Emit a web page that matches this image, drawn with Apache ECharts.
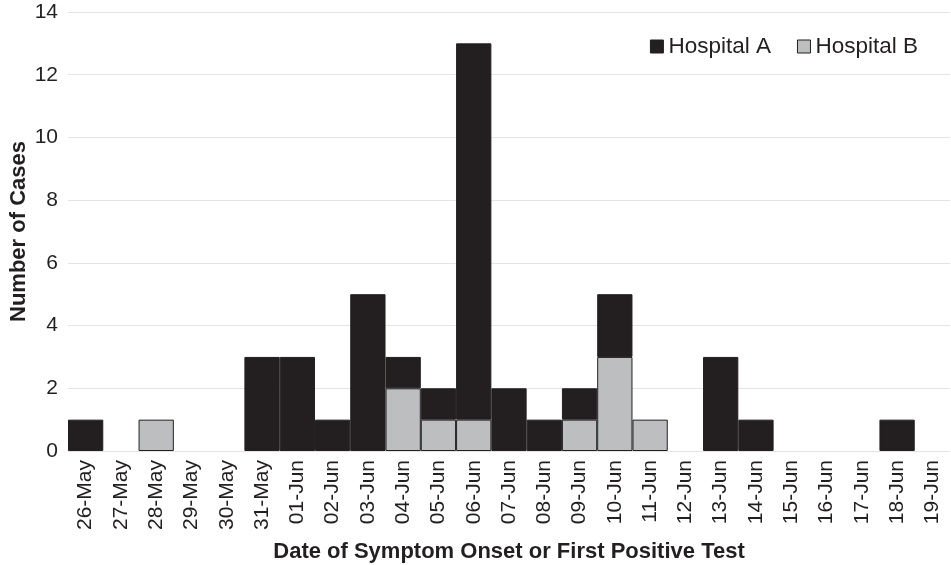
<!DOCTYPE html>
<html><head><meta charset="utf-8">
<script src="https://cdn.jsdelivr.net/npm/echarts@6/dist/echarts.min.js"></script>
<style>html,body{margin:0;padding:0;background:#fff}#c{width:951px;height:565px}</style>
</head><body><div id="c"></div>
<script>
const categories = ['26-May','27-May','28-May','29-May','30-May','31-May','01-Jun','02-Jun','03-Jun','04-Jun','05-Jun','06-Jun','07-Jun','08-Jun','09-Jun','10-Jun','11-Jun','12-Jun','13-Jun','14-Jun','15-Jun','16-Jun','17-Jun','18-Jun','19-Jun'];
const hospitalA = [1,0,0,0,0,3,3,1,5,1,1,12,2,1,1,2,0,0,3,1,0,0,0,1,0];
const hospitalB = [0,0,1,0,0,0,0,0,0,2,1,1,0,0,1,3,1,0,0,0,0,0,0,0,0];
const yTicks = [0,2,4,6,8,10,12,14];

const font = "'Liberation Sans', Arial, Helvetica, sans-serif";
const nz = arr => arr.map(v => v === 0 ? '-' : v);
const chart = echarts.init(document.getElementById('c'), null, {renderer:'canvas'});
chart.setOption({
  animation:false,
  textStyle:{fontFamily:font},
  grid:{left:68,right:1,top:12,bottom:114,containLabel:false,outerBoundsMode:'none'},
  legend:{
    data:['Hospital A','Hospital B'],
    right:28, top:30,
    itemWidth:13, itemHeight:13, itemGap:26,
    textStyle:{fontSize:22.5,color:'#231f20',fontFamily:font,padding:[0,0,0,0]},
    icon:'rect',
    itemStyle:{borderColor:'#231f20',borderWidth:1}
  },
  xAxis:{
    type:'category', data:categories,
    axisLine:{show:false}, axisTick:{show:false},
    axisLabel:{rotate:90, fontSize:21, color:'#231f20', margin:9, interval:0, fontFamily:font},
    name:'Date of Symptom Onset or First Positive Test',
    nameLocation:'middle', nameGap:90, nameMoveOverlap:false,
    nameTextStyle:{fontSize:22, fontWeight:'bold', color:'#231f20', fontFamily:font}
  },
  yAxis:{
    type:'value', min:yTicks[0], max:yTicks[yTicks.length-1], interval:2,
    axisLine:{show:false}, axisTick:{show:false},
    splitLine:{lineStyle:{color:'#e4e4e4',width:1}},
    axisLabel:{fontSize:21, color:'#231f20', margin:10, fontFamily:font},
    name:'Number of Cases', nameLocation:'middle', nameGap:38, nameMoveOverlap:false,
    nameTextStyle:{fontSize:22, fontWeight:'bold', color:'#231f20', fontFamily:font}
  },
  series:[
    {name:'Hospital B', type:'bar', stack:'s', data:nz(hospitalB), barCategoryGap:'0%',
     itemStyle:{color:'#bcbec0', borderColor:'#231f20', borderWidth:1}},
    {name:'Hospital A', type:'bar', stack:'s', data:nz(hospitalA), barCategoryGap:'0%',
     itemStyle:{color:'#231f20', borderColor:'#231f20', borderWidth:1}}
  ]
});
</script></body></html>
